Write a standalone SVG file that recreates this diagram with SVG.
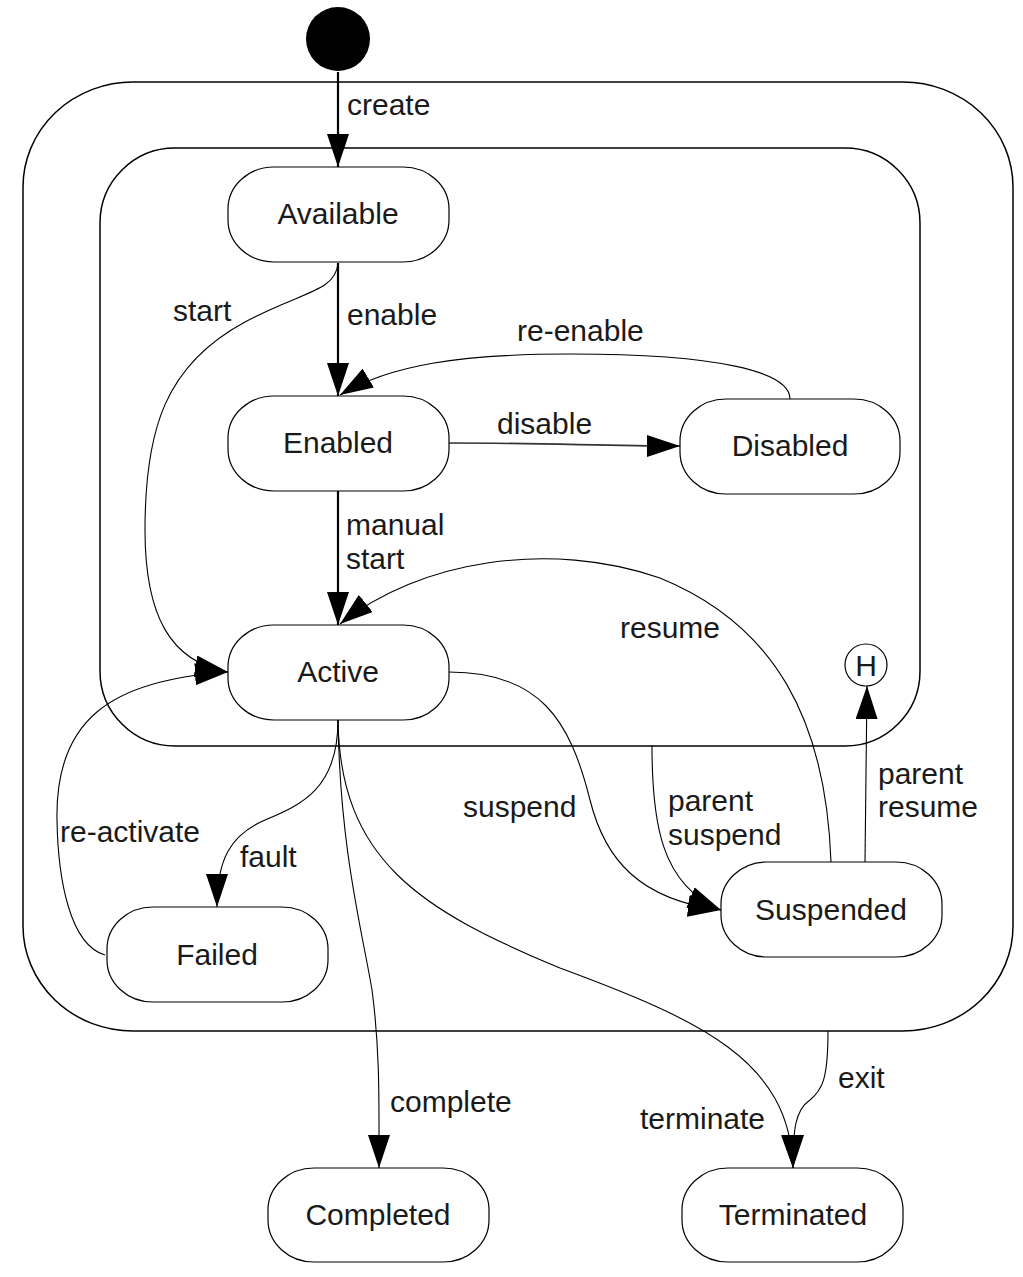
<svg xmlns="http://www.w3.org/2000/svg" width="1023" height="1277" viewBox="0 0 1023 1277">
<style>
.container{fill:none;stroke:#000;stroke-width:1.5}
.state{fill:#fff;stroke:#000;stroke-width:1.2}
.lbl{font-family:"Liberation Sans",Arial,sans-serif;font-size:30px;fill:#1a1a1a}
.nl{font-family:"Liberation Sans",Arial,sans-serif;font-size:30px;fill:#1a1a1a;text-anchor:middle}
.c{fill:none;stroke:#000;stroke-width:1.1;marker-end:url(#ah)}
.thick{stroke-width:2.2}
</style>
<defs>
<marker id="ah" markerUnits="userSpaceOnUse" markerWidth="34" markerHeight="22" refX="33" refY="11" orient="auto">
<path d="M0,0 L33,11 L0,22 z" fill="#000"/>
</marker>
</defs>
<rect width="1023" height="1277" fill="#fff"/>
<g id="outer-container"><rect class="container" x="23" y="82" width="990" height="949" rx="110" ry="105"/></g>
<g id="inner-container"><rect class="container" x="100" y="148" width="820" height="598" rx="75" ry="75"/></g>

<g id="connectors">
<path class="c thick" d="M338,72 L338,167"/>
<path class="c thick" d="M338,263 L338,396"/>
<path class="c" d="M338,263 C336,292 300,292 245,322 C165,365 145,430 145,530 C145,615 170,662 228,672"/>
<path class="c" d="M790,399 C790,372 720,354 570,354 C460,354 390,365 340,395"/>
<path class="c" style="stroke-width:1.6;stroke:#333" d="M449,443 C550,443 600,446 680,446"/>
<path class="c thick" d="M338,491 L338,625"/>
<path class="c" d="M831,862 C826,720 775,625 660,578 C550,540 420,560 340,624"/>
<path class="c" d="M449,672 C540,672 570,720 590,800 C605,860 640,900 721,910"/>
<path class="c" d="M652,746 C652,820 660,885 721,910"/>
<path class="c" d="M865,862 L867,686"/>
<path class="c" d="M105,955 C70,945 58,880 57,820 C55,720 110,680 228,672"/>
<path class="c" d="M338,720 C338,790 300,805 265,820 C230,835 217,860 217,907"/>
<path class="c" d="M338,720 C340,850 362,930 372,990 C380,1050 379,1100 379,1168"/>
<path class="c" d="M338,720 C340,860 420,910 560,968 C700,1020 790,1060 793,1168"/>
<path class="c" d="M828,1031 C828,1080 822,1090 810,1100 C795,1110 793,1130 793,1168"/>
</g>

<g id="labels">
<text class="lbl" x="173" y="321">start</text>
<text class="lbl" x="347" y="115">create</text>
<text class="lbl" x="347" y="325">enable</text>
<text class="lbl" x="517" y="341">re-enable</text>
<text class="lbl" x="497" y="434">disable</text>
<text class="lbl" x="346" y="535">manual</text>
<text class="lbl" x="346" y="569">start</text>
<text class="lbl" x="620" y="638">resume</text>
<text class="lbl" x="463" y="817">suspend</text>
<text class="lbl" x="668" y="811">parent</text>
<text class="lbl" x="668" y="845">suspend</text>
<text class="lbl" x="878" y="784">parent</text>
<text class="lbl" x="878" y="817">resume</text>
<text class="lbl" x="60" y="842">re-activate</text>
<text class="lbl" x="240" y="867">fault</text>
<text class="lbl" x="390" y="1112">complete</text>
<text class="lbl" x="640" y="1129">terminate</text>
<text class="lbl" x="838" y="1088">exit</text>
</g>

<g id="initial"><circle cx="338" cy="39" r="32" fill="#000"/></g>
<g id="available"><rect class="state" x="228" y="167" width="221" height="95" rx="46" ry="42"/><text class="nl" x="338" y="224">Available</text></g>
<g id="enabled"><rect class="state" x="228" y="396" width="221" height="95" rx="46" ry="42"/><text class="nl" x="338" y="453">Enabled</text></g>
<g id="disabled"><rect class="state" x="680" y="399" width="220" height="95" rx="46" ry="42"/><text class="nl" x="790" y="456">Disabled</text></g>
<g id="active"><rect class="state" x="228" y="625" width="221" height="95" rx="46" ry="42"/><text class="nl" x="338" y="682">Active</text></g>
<g id="history"><circle class="state" cx="866" cy="665" r="21"/><text class="nl" x="866" y="676">H</text></g>
<g id="failed"><rect class="state" x="107" y="907" width="221" height="95" rx="46" ry="42"/><text class="nl" x="217" y="965">Failed</text></g>
<g id="suspended"><rect class="state" x="721" y="862" width="221" height="95" rx="46" ry="42"/><text class="nl" x="831" y="920">Suspended</text></g>
<g id="completed"><rect class="state" x="268" y="1168" width="221" height="94" rx="46" ry="42"/><text class="nl" x="378" y="1225">Completed</text></g>
<g id="terminated"><rect class="state" x="682" y="1168" width="221" height="94" rx="46" ry="42"/><text class="nl" x="793" y="1225">Terminated</text></g>
</svg>
